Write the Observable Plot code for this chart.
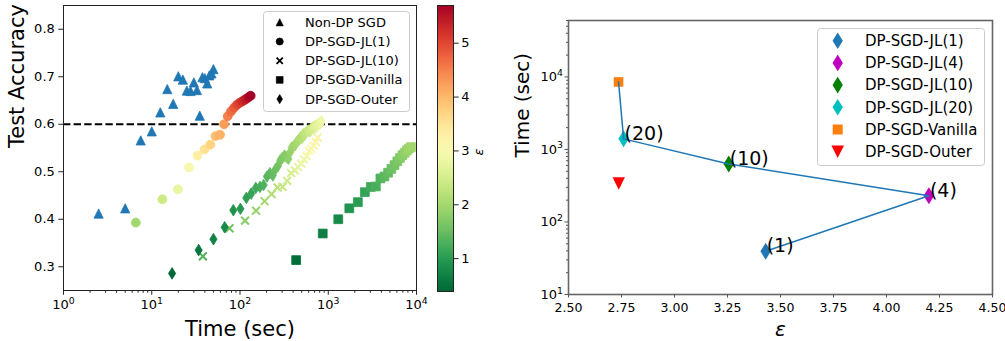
<!DOCTYPE html>
<html><head><meta charset="utf-8">
<script src="https://cdn.jsdelivr.net/npm/d3@7"></script>
<script src="https://cdn.jsdelivr.net/npm/@observablehq/plot@0.6"></script>
<style>
body{margin:0;background:#fff;}
#fig{position:relative;width:1005px;height:341px;font-family:"DejaVu Sans",sans-serif;overflow:hidden;}
#fig > svg{position:absolute;top:0;}
</style></head><body><div id="fig"></div>
<script>
// ---------- Left panel data ----------
const nonDpTime = [2.5,5,7.5,10,12.5,15,17.5,20,22.5,25,27.5,30,32.5,35,37.5,40,42.5,45,47.5,50];
const nonDpAcc  = [0.412,0.423,0.566,0.585,0.625,0.674,0.643,0.701,0.694,0.671,0.670,0.688,0.672,0.618,0.699,0.697,0.686,0.703,0.707,0.716];

const jl1Time = [6.6,13.2,19.8,26.4,33.0,39.6,46.2,52.8,59.4,66.0,72.6,79.2,85.8,92.4,99.0,105.6,112.2,118.8,125.4,132.0];
const jl1Acc  = [0.393,0.442,0.463,0.509,0.534,0.547,0.557,0.575,0.578,0.600,0.617,0.627,0.635,0.641,0.645,0.648,0.651,0.654,0.657,0.660];
const jl1Eps  = [1.98,2.40,2.75,3.00,3.30,3.50,3.70,3.95,4.05,4.25,4.50,4.65,4.80,4.95,5.08,5.20,5.32,5.44,5.57,5.70];

const jl10Time = [38,76,114,152,190,228,266,304,342,380,418,456,494,532,570,608,646,684,722,760];
const jl10Acc  = [0.322,0.381,0.397,0.418,0.438,0.453,0.467,0.468,0.481,0.497,0.503,0.510,0.517,0.526,0.533,0.544,0.548,0.555,0.563,0.572];
const jl10Eps  = [1.30,1.55,1.72,1.86,1.98,2.10,2.20,2.30,2.40,2.49,2.58,2.66,2.74,2.82,2.90,2.97,3.04,3.11,3.18,3.25];

const vanTime = [433,866,1299,1732,2165,2598,3031,3464,3897,4330,4763,5196,5629,6062,6495,6928,7361,7794,8227,8660];
const vanAcc  = [0.314,0.370,0.400,0.423,0.436,0.457,0.468,0.469,0.486,0.490,0.498,0.506,0.514,0.522,0.529,0.535,0.540,0.545,0.549,0.552];
const vanEps  = [0.45,0.65,0.78,0.90,1.00,1.09,1.17,1.25,1.32,1.39,1.46,1.52,1.58,1.64,1.70,1.75,1.81,1.86,1.91,1.96];

const outTime = [17,34,50,67,84,101,118,134,151,168,185,202,218,235,252,269,286,302,319,336,353,370,386,403,420,437,454,470,487,504,521,538,554,571,588,605,622,638,655,672,689,706,722,739,756,773,790,806,823,840];
const outAcc  = [0.286,0.335,0.358,0.383,0.419,0.422,0.445,0.454,0.466,0.468,0.472,0.490,0.497,0.492,0.505,0.512,0.524,0.529,0.534,0.531,0.527,0.541,0.551,0.553,0.556,0.562,0.565,0.568,0.573,0.571,0.579,0.577,0.582,0.584,0.586,0.587,0.585,0.590,0.592,0.594,0.591,0.596,0.597,0.595,0.599,0.600,0.602,0.601,0.604,0.606];
const outEps  = [0.39,0.55,0.68,0.78,0.87,0.95,1.03,1.10,1.17,1.23,1.29,1.35,1.41,1.46,1.51,1.56,1.61,1.66,1.71,1.75,1.80,1.84,1.88,1.92,1.96,2.00,2.04,2.08,2.12,2.16,2.20,2.23,2.27,2.31,2.34,2.38,2.41,2.45,2.48,2.52,2.55,2.58,2.62,2.65,2.68,2.71,2.74,2.77,2.80,2.83];

const accThreshold = 0.6;
const epsRange = [0.39, 5.70];
const leftLegend = ["Non-DP SGD","DP-SGD-JL(1)","DP-SGD-JL(10)","DP-SGD-Vanilla","DP-SGD-Outer"];

// ---------- Right panel data ----------
const rNames = ["DP-SGD-JL(1)","DP-SGD-JL(4)","DP-SGD-JL(10)","DP-SGD-JL(20)","DP-SGD-Vanilla","DP-SGD-Outer"];
const rEps   = [3.43, 4.20, 3.256, 2.76, 2.736, 2.737];
const rTime  = [39.5, 230, 630, 1400, 8530, 340];
const rColors = ["#1f77b4","#bf00bf","#008000","#00bfbf","#ff7f0e","#ff0000"];
const rLabels = ["(1)","(4)","(10)","(20)","",""];
const lineOrder = [4,3,2,1,0]; // Vanilla -> JL(20) -> JL(10) -> JL(4) -> JL(1)

// ---------- helpers ----------
const SUP = "⁰¹²³⁴⁵⁶⁷⁸⁹";
const sup = s => String(s).split("").map(c => SUP[+c]).join("");
const fmtPow = d => "10" + sup(Math.round(Math.log10(d)));
const R = size => Math.sqrt(size / Math.PI);
const triUp = {draw(c, s){const r=R(s); c.moveTo(0,-r); c.lineTo(r,r); c.lineTo(-r,r); c.closePath();}};
const triDown = {draw(c, s){const r=R(s); c.moveTo(0,r); c.lineTo(r,-r); c.lineTo(-r,-r); c.closePath();}};
const sq = {draw(c, s){const r=R(s); c.rect(-r,-r,2*r,2*r);}};
const thinDia = {draw(c, s){const r=R(s); const hw=0.62*r, hh=r; c.moveTo(0,-hh); c.lineTo(hw,0); c.lineTo(0,hh); c.lineTo(-hw,0); c.closePath();}};
const cross = {draw(c, s){const r=R(s); c.moveTo(-r,-r); c.lineTo(r,r); c.moveTo(r,-r); c.lineTo(-r,r);}};
const circ = {draw(c, s){const r=R(s); c.moveTo(r,0); c.arc(0,0,r,0,2*Math.PI); c.closePath();}};
const symPath = (sym, r) => {const p = d3.path(); sym.draw(p, Math.PI*r*r); return p.toString();};

// render "10⁴" style labels with a real raised exponent
function fixPowers(svg) {
  d3.select(svg).selectAll("text").each(function() {
    const t = this.textContent;
    const m = /^10([⁰¹²³⁴⁵⁶⁷⁸⁹]+)$/.exec(t);
    if (!m) return;
    const exp = m[1].split("").map(c => SUP.indexOf(c)).join("");
    const sel = d3.select(this);
    sel.text("");
    sel.append("tspan").text("10");
    sel.append("tspan").attr("font-size", "0.72em").attr("dy", "-0.55em").text(exp);
  });
}

const zip = (t, a, e) => t.map((d, i) => ({t: d, acc: a[i], eps: e ? e[i] : null}));
const nonDp = zip(nonDpTime, nonDpAcc);
const jl1 = zip(jl1Time, jl1Acc, jl1Eps);
const jl10 = zip(jl10Time, jl10Acc, jl10Eps);
const van = zip(vanTime, vanAcc, vanEps);
const out = zip(outTime, outAcc, outEps);

const colorScale = {type: "linear", scheme: "RdYlGn", reverse: true, domain: epsRange};
const font = {fontFamily: "DejaVu Sans", fontSize: "13px", background: "transparent", overflow: "visible"};
const fig = document.getElementById("fig");

// ---------- Left panel ----------
const decades = [1, 10, 100, 1000, 10000];
const minorX = [];
for (const d of [1, 10, 100, 1000]) for (let k = 2; k <= 9; k++) minorX.push(d * k);

const left = Plot.plot({
  width: 430, height: 341,
  marginLeft: 63, marginRight: 14, marginTop: 5, marginBottom: 51,
  style: font,
  x: {type: "log", domain: [1, 1e4]},
  y: {domain: [0.25, 0.85]},
  color: colorScale,
  marks: [
    Plot.ruleY([accThreshold], {stroke: "black", strokeWidth: 2, strokeDasharray: "7.4,3.2"}),
    Plot.dot(nonDp, {x: "t", y: "acc", symbol: triUp, r: 4.6, fill: "#1f77b4", stroke: "#1f77b4", strokeWidth: 0.8}),
    Plot.dot(jl1, {x: "t", y: "acc", symbol: circ, r: 4.5, fill: "eps", stroke: "eps", strokeWidth: 0.8}),
    Plot.dot(jl10, {x: "t", y: "acc", symbol: cross, r: 3.9, fill: "none", stroke: "eps", strokeWidth: 2}),
    Plot.dot(van, {x: "t", y: "acc", symbol: sq, r: 4.4, fill: "eps", stroke: "eps", strokeWidth: 0.8}),
    Plot.dot(out, {x: "t", y: "acc", symbol: thinDia, r: 5.8, fill: "eps", stroke: "eps", strokeWidth: 0.8}),
    Plot.frame({stroke: "#222", strokeWidth: 1}),
    Plot.axisX(decades, {tickSize: 4.7, tickPadding: 5, tickFormat: fmtPow, fontSize: 13, label: null, stroke: "#222"}),
    Plot.axisX(minorX, {tickSize: 2.7, tickFormat: () => "", label: null, stroke: "#222"}),
    Plot.axisY([0.3,0.4,0.5,0.6,0.7,0.8], {tickSize: 4.7, tickPadding: 4, tickFormat: d3.format(".1f"), fontSize: 13, label: null, stroke: "#222"}),
    Plot.text(["Test Accuracy"], {frameAnchor: "left", dx: -46, rotate: -90, fontSize: 21, fill: "black"}),
    Plot.text(["Time (sec)"], {frameAnchor: "bottom", lineAnchor: "bottom", dy: 45, fontSize: 21, fill: "black"})
  ]
});
left.style.left = "0px";
fixPowers(left);
fig.appendChild(left);

// ---------- Colorbar ----------
const steps = d3.range(epsRange[0], epsRange[1], 0.02);
const cbar = Plot.plot({
  width: 70, height: 341,
  marginLeft: 17, marginRight: 37, marginTop: 5, marginBottom: 50,
  style: font,
  x: {domain: [0, 1], axis: null},
  y: {domain: epsRange},
  color: colorScale,
  marks: [
    Plot.rect(steps, {x1: () => 0, x2: () => 1, y1: d => d, y2: d => Math.min(d + 0.025, epsRange[1]), fill: d => d, shapeRendering: "crispEdges"}),
    Plot.frame({stroke: "#222", strokeWidth: 1}),
    Plot.axisY([1,2,3,4,5], {anchor: "right", tickSize: 4.7, tickPadding: 3, tickFormat: d3.format("d"), fontSize: 13, label: null, stroke: "#222"}),
    Plot.text(["ε"], {frameAnchor: "right", dx: 25, rotate: -90, fontSize: 13, fontStyle: "italic", fill: "black"})
  ]
});
cbar.style.left = "420px";
fig.appendChild(cbar);

// ---------- Right panel ----------
const rData = rNames.map((n, i) => ({name: n, eps: rEps[i], time: rTime[i], color: rColors[i], label: rLabels[i]}));
const rLine = lineOrder.map(i => rData[i]);
const minorY = [];
for (const d of [10, 100, 1000, 10000]) for (let k = 2; k <= 9; k++) if (d * k <= 60000) minorY.push(d * k);
const rSym = [thinDia, thinDia, thinDia, thinDia, sq, triDown];
const rR = [8.5, 8.5, 8.5, 8.5, 4.8, 6.2];

const right = Plot.plot({
  width: 515, height: 341,
  marginLeft: 78, marginRight: 13, marginTop: 20, marginBottom: 47,
  style: font,
  x: {domain: [2.5, 4.5]},
  y: {type: "log", domain: [10, 60000]},
  marks: [
    ...rData.map((d, i) => Plot.dot([d], {x: "eps", y: "time", symbol: rSym[i], r: rR[i], fill: d.color, stroke: "none"})),
    Plot.line(rLine, {x: "eps", y: "time", stroke: "#1f77b4", strokeWidth: 1.5}),
    Plot.text(rData.filter(d => d.label), {x: "eps", y: "time", text: "label", textAnchor: "start", lineAnchor: "bottom", dx: 1, dy: 1, fontSize: 19, fill: "black"}),
    Plot.frame({stroke: "#666", strokeWidth: 1.6}),
    Plot.axisX([2.5,2.75,3,3.25,3.5,3.75,4,4.25,4.5], {tickSize: 3.5, tickPadding: 5, tickFormat: d3.format(".2f"), fontSize: 12.5, label: null, stroke: "#555"}),
    Plot.axisY([10,100,1000,10000], {tickSize: 3.5, tickPadding: 2, tickFormat: fmtPow, fontSize: 13, label: null, stroke: "#555"}),
    Plot.axisY(minorY, {tickSize: 2, tickFormat: () => "", label: null, stroke: "#555"}),
    Plot.text(["Time (sec)"], {frameAnchor: "left", dx: -46, rotate: -90, fontSize: 20, fill: "black"}),
    Plot.text(["ε"], {frameAnchor: "bottom", lineAnchor: "bottom", dy: 41, fontSize: 20, fontStyle: "italic", fill: "black"})
  ]
});
right.style.left = "490px";
fixPowers(right);
fig.appendChild(right);

// ---------- Legends (overlay) ----------
const ov = d3.create("svg").attr("width", 1005).attr("height", 341)
  .style("position", "absolute").style("left", "0px").style("top", "0px")
  .style("font-family", "DejaVu Sans");

// left legend
const lg = ov.append("g");
lg.append("rect").attr("x", 263.5).attr("y", 11.5).attr("width", 146).attr("height", 100).attr("rx", 3)
  .attr("fill", "white").attr("fill-opacity", 0.85).attr("stroke", "#cccccc");
const lSyms = [[triUp, 3.6], [circ, 3.6], [cross, 3.1], [sq, 3.4], [thinDia, 4.6]];
leftLegend.forEach((name, i) => {
  const y = 22.3 + i * 19.2;
  const [sym, r] = lSyms[i];
  const isCross = sym === cross;
  lg.append("path").attr("d", symPath(sym, r)).attr("transform", `translate(279.7,${y})`)
    .attr("fill", isCross ? "none" : "black").attr("stroke", "black").attr("stroke-width", isCross ? 1.8 : 0.6);
  lg.append("text").attr("x", 305).attr("y", y).attr("dy", "0.35em").attr("font-size", 13).text(name);
});

// right legend
const rg = ov.append("g");
rg.append("rect").attr("x", 817.5).attr("y", 28.5).attr("width", 167).attr("height", 137).attr("rx", 3)
  .attr("fill", "white").attr("fill-opacity", 0.85).attr("stroke", "#cccccc");
const rLegR = [8.3, 8.3, 8.3, 8.3, 5, 6.3];
rNames.forEach((name, i) => {
  const y = 40.7 + i * 22.2;
  rg.append("path").attr("d", symPath(rSym[i], rLegR[i])).attr("transform", `translate(837.7,${y})`)
    .attr("fill", rColors[i]);
  rg.append("text").attr("x", 865).attr("y", y).attr("dy", "0.35em").attr("font-size", 15).text(name);
});
fig.appendChild(ov.node());
</script>
</body></html>
